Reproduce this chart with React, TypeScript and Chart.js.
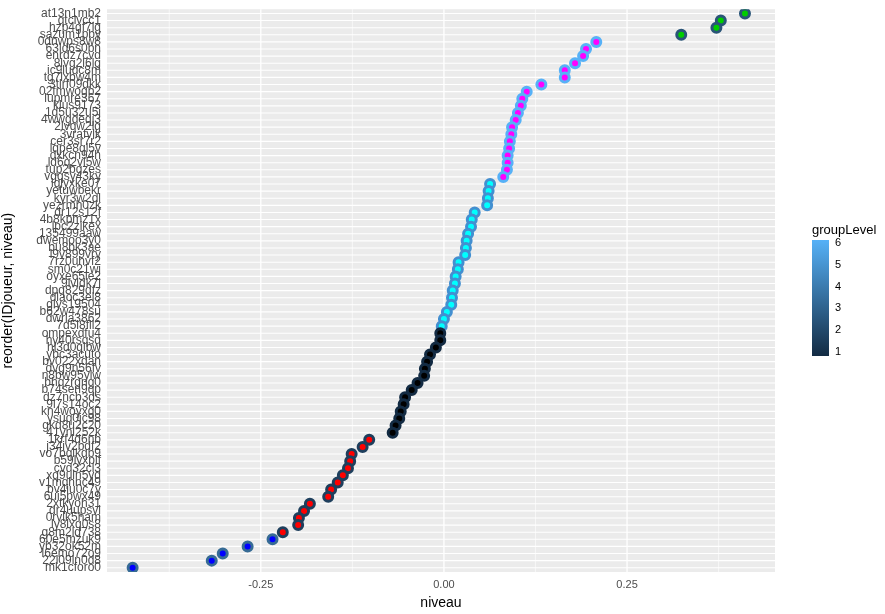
import React, { useEffect, useRef } from "react";
import { Chart, registerables } from "chart.js";
Chart.register(...registerables);

const players = ["at13n1mb2","qtcivcc1","hzp4gf7lg","sazum1pby","0dnwps8w8","63ld6s0bn","enrdz7cvd","8lvg2l6lg","ic9ludc8m","tg7lxbw4m","3tlrf09dkk","02fmwogb2","lupmre367","klus9173","1d5u32u5j","4wwgdeqj3","2lvqw2lg","3vrafvlk","cer3sr7r2","lqpe8ql5v","dxkcn94h","ld6q2vl5w","tup2bgzes","vgqsy43ky","lqlyxke07","yetuwbekr","kyr3w2dl","yezrmh0zk","dr12s12f","4b8kpmz1x","lpc2zikex","135499aaw","dwemoo3y0","bu8bk3ae","l9v899vry","7rz0uhvf2","sm0c21wj","oyxe65le2","9lvldk7l","dpq829dfz","dlaoc3el8","glys19504","b62w478su","dwrla3862","7d5l8fll2","ompexdfu4","hy40rsqsq","hl3d0qlbw","ybc3acuto","bv022xdan","dvg9n56fv","n8bw95ylw","bhqzrgng0","b74sen9qp","dz7ncb3ds","9l7s14oc2","kn4woyxg0","ysuq0jc98","gkd8u2c20","41ynl252k","1krf4d6nb","j34iv2bdf2","vo7bqlkqb9","b59lyxplf","cvd32cl3","xq9uln5yd","v1mqhnc49","bv4iu0c7y","6ui5pwx49","2xtkyoh31","dr4uupsvl","0rvlk5ham","ly8lxq0s8","g8m2ld738","60e5mzuk9","yb32ok52m","l6emo72o9","22l09ln0d8","mk1cforo0"];
const niveau = [0.411,0.378,0.372,0.324,0.208,0.194,0.190,0.179,0.165,0.165,0.133,0.113,0.107,0.105,0.101,0.098,0.093,0.092,0.090,0.089,0.087,0.087,0.086,0.081,0.063,0.061,0.060,0.059,0.042,0.038,0.037,0.033,0.031,0.030,0.029,0.020,0.019,0.016,0.015,0.012,0.011,0.010,0.004,0.000,-0.003,-0.005,-0.005,-0.011,-0.019,-0.023,-0.026,-0.027,-0.036,-0.044,-0.053,-0.055,-0.059,-0.061,-0.066,-0.070,-0.102,-0.111,-0.126,-0.128,-0.131,-0.138,-0.145,-0.154,-0.158,-0.183,-0.191,-0.198,-0.199,-0.220,-0.234,-0.268,-0.302,-0.317,-0.425];
const groupLevel = [3,3,3,3,6,6,6,6,6,6,6,6,6,6,6,6,6,6,6,6,6,6,6,6,5,5,5,5,5,5,5,5,5,5,5,5,5,5,5,5,5,5,5,5,5,1,1,1,1,1,1,1,1,1,1,1,1,1,1,1,2,2,2,2,2,2,2,2,2,2,2,2,2,2,4,4,4,4,4];
const levelOutline = ["#132B43","#1E3F5D","#2A5578","#366B95","#438FD0","#56B1F7"];
const levelFill = ["#000000","#FF0000","#00CD00","#0000FF","#00FFFF","#FF00FF"];
const xTicks = [-0.25, 0, 0.25];
const legendTicks = [1,2,3,4,5,6];

export default function App() {
  const ref = useRef<HTMLCanvasElement>(null);
  useEffect(() => {
    const n = players.length;
    const data = niveau.map((v, i) => ({ x: v, y: n - 1 - i }));
    const panelBg = {
      id: "panelBg",
      beforeDraw(c: any) {
        const a = c.chartArea;
        c.ctx.save();
        c.ctx.fillStyle = "#EBEBEB";
        c.ctx.fillRect(a.left, a.top, a.right - a.left, a.bottom - a.top);
        const xs = c.scales.x;
        c.ctx.strokeStyle = "#FFFFFF";
        [-0.375, -0.125, 0.125, 0.375].forEach((v) => {
          const px = xs.getPixelForValue(v);
          c.ctx.lineWidth = 0.6;
          c.ctx.beginPath(); c.ctx.moveTo(px, a.top); c.ctx.lineTo(px, a.bottom); c.ctx.stroke();
        });
        xTicks.forEach((v) => {
          const px = xs.getPixelForValue(v);
          c.ctx.lineWidth = 1.3;
          c.ctx.beginPath(); c.ctx.moveTo(px, a.top); c.ctx.lineTo(px, a.bottom); c.ctx.stroke();
        });
        const ys = c.scales.y;
        for (let i = 0; i < n; i++) {
          const py = ys.getPixelForValue(i);
          c.ctx.lineWidth = 1.1;
          c.ctx.beginPath(); c.ctx.moveTo(a.left, py); c.ctx.lineTo(a.right, py); c.ctx.stroke();
        }
        c.ctx.restore();
      },
    };
    const chart = new Chart(ref.current!, {
      type: "scatter",
      data: {
        datasets: [{
          data,
          pointRadius: 4.5,
          pointBorderWidth: 3,
          pointBackgroundColor: groupLevel.map((g) => levelFill[g - 1]),
          pointBorderColor: groupLevel.map((g) => levelOutline[g - 1]),
        }],
      },
      options: {
        animation: false,
        responsive: false,
        layout: { padding: { top: 1, right: 110, left: 0, bottom: 0 } },
        plugins: { legend: { display: false }, tooltip: { enabled: false } },
        scales: {
          x: {
            type: "linear", min: -0.46, max: 0.452,
            afterBuildTicks: (s: any) => { s.ticks = xTicks.map((v) => ({ value: v })); },
            grid: { display: false, drawTicks: true, tickLength: 4, tickColor: "#333333" } as any,
            border: { display: false },
            ticks: { color: "#4D4D4D", font: { family: "Liberation Sans", size: 11 }, padding: 2,
              callback: (v: any) => (v === 0 ? "0.00" : Number(v).toFixed(2)) },
            title: { display: true, text: "niveau", color: "#000", font: { family: "Liberation Sans", size: 14 }, padding: { top: 2, bottom: 2 } },
          },
          y: {
            type: "linear", min: -0.6, max: n - 0.4,
            afterBuildTicks: (s: any) => { s.ticks = players.map((_, i) => ({ value: i })); },
            afterFit: (s: any) => { s.width = 107; },
            grid: { display: false, drawTicks: true, tickLength: 4, tickColor: "#333333" } as any,
            border: { display: false },
            ticks: { autoSkip: false, color: "#4D4D4D", font: { family: "Liberation Sans", size: 12 }, padding: 2,
              callback: (v: any) => players[n - 1 - Number(v)] },
            title: { display: true, text: "reorder(IDjoueur, niveau)", color: "#000", font: { family: "Liberation Sans", size: 14 }, padding: { top: 0, bottom: 4 } },
          },
        },
      },
      plugins: [panelBg],
    });
    return () => chart.destroy();
  }, []);

  return (
    <div style={{ position: "fixed", left: 0, top: 0, width: 885, height: 614, background: "#fff", fontFamily: "Liberation Sans" }}>
      <canvas ref={ref} width={885} height={614} />
      <div style={{ position: "absolute", left: 812, top: 222, fontSize: 13 }}>groupLevel</div>
      <div style={{ position: "absolute", left: 812, top: 240, width: 17, height: 116,
        background: "linear-gradient(to top, #132B43, #56B1F7)" }} />
      {legendTicks.map((t) => (
        <div key={t} style={{ position: "absolute", left: 835, top: 352 - (t - 1) * 21.8 - 7, fontSize: 11, color: "#000" }}>{t}</div>
      ))}
    </div>
  );
}
